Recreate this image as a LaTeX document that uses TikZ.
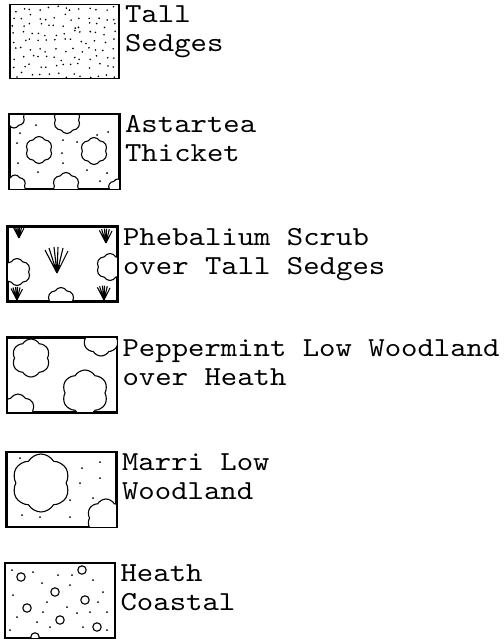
\documentclass[tikz,border=0pt]{standalone}
\usepackage{fontspec}
\newfontfamily\legendfont{lmmono10-regular.otf}[FakeStretch=1.135]
\usetikzlibrary{positioning,shapes.symbols}
\tikzset{
  swatch/.style={draw, line width=1.8pt, minimum width=109pt, minimum height=74pt, inner sep=0pt},
  legendtext/.style={font=\legendfont\fontsize{27.5pt}{29pt}\selectfont, inner sep=0pt, anchor=base west},
  puff/.style={cloud, cloud puffs=6, cloud puff arc=120, aspect=1, draw, fill=white, line width=1.1pt, inner sep=0pt},
  speck/.style={fill=black},
  sedgetuft/.pic={
    \draw[line width=1.1pt] (0,0) -- (-12,-23) (0,0) -- (-8,-25) (0,0) -- (-3,-26)
      (0,0) -- (1,-26) (0,0) -- (6,-25) (0,0) -- (11,-22);
    \fill (0,0) -- (-3,-8) -- (3,-8) -- cycle;
  }
}
\newcommand{\specks}[1]{\foreach \p in {#1} \fill[speck] (\p) circle[radius=1pt];}
\begin{document}
\begin{tikzpicture}[x=1pt, y=-1pt]
\useasboundingbox (0,0) rectangle (503,642);

% swatches
\node[swatch] (sedges) at (64.5,41.5) {};
\node[swatch] (astartea) at (64.5,151.5) {};
\node[swatch] (phebalium) at (62.5,264) {};
\node[swatch] (peppermint) at (62,375) {};
\node[swatch] (marri) at (61.5,489.5) {};
\node[swatch] (heath) at (60,600.5) {};

% Tall Sedges: stipple
\begin{scope}
  \clip (sedges.south west) rectangle (sedges.north east);
  \pgfmathsetseed{11}
  \foreach \gx in {0,...,12} {
    \foreach \gy in {0,...,8} {
      \pgfmathsetmacro\px{15+\gx*8.2+rnd*6-3}
      \pgfmathsetmacro\py{9+\gy*8.2+rnd*6-3}
      \fill[speck] (\px,\py) circle[radius=0.9pt];
    }
  }
\end{scope}

% Astartea Thicket
\begin{scope}
  \clip (astartea.south west) rectangle (astartea.north east);
  \specks{{36,125},{20,133},{97,135},{108,132},{17,143},{63,140},{77,142},
    {62,153},{18,163},{38,172},{63,163},{87,170},{107,173},{100,181}}
  \node[puff, minimum size=22pt] (a1) at (14,117) {};
  \node[puff, minimum size=27pt] (a2) at (67,120) {};
  \node[puff, minimum size=27pt] (a3) at (39,150) {};
  \node[puff, minimum size=27pt] (a4) at (94,151) {};
  \node[puff, minimum size=22pt] (a5) at (15,186) {};
  \node[puff, minimum size=27pt] (a6) at (66,186) {};
  \node[puff, minimum size=20pt] (a7) at (118,189) {};
\end{scope}
\draw[line width=1.8pt] (astartea.south west) rectangle (astartea.north east);

% Phebalium Scrub over Tall Sedges
\begin{scope}
  \clip (phebalium.south west) rectangle (phebalium.north east);
  \node[puff, minimum size=27pt] (p1) at (17,272) {};
  \node[puff, minimum size=27pt] (p2) at (110,267) {};
  \node[puff, minimum size=27pt] (p3) at (61,301) {};
  \pic at (57,273) {sedgetuft};
  \pic[scale=0.45] at (19,238) {sedgetuft};
  \pic[scale=0.55] at (106,243) {sedgetuft};
  \pic[scale=0.5] at (17,300) {sedgetuft};
  \pic[scale=0.55] at (104,300) {sedgetuft};
\end{scope}
\draw[line width=1.8pt] (phebalium.south west) rectangle (phebalium.north east);

% Peppermint Low Woodland over Heath
\begin{scope}
  \clip (peppermint.south west) rectangle (peppermint.north east);
  \node[puff, minimum size=38pt] (m1) at (31,358) {};
  \node[puff, minimum size=36pt] (m2) at (101,338) {};
  \node[puff, minimum size=46pt] (m3) at (85,393) {};
  \node[puff, minimum size=34pt] (m4) at (18,411) {};
\end{scope}
\draw[line width=1.8pt] (peppermint.south west) rectangle (peppermint.north east);

% Marri Low Woodland
\begin{scope}
  \clip (marri.south west) rectangle (marri.north east);
  \specks{{82,468},{100,462},{100,478},{80,483},{70,500},{93,498},
    {22,515},{40,517},{70,517},{20,458}}
  \node[puff, minimum size=58pt] (r1) at (41,483) {};
  \node[puff, minimum size=38pt] (r2) at (106,518) {};
\end{scope}
\draw[line width=1.8pt] (marri.south west) rectangle (marri.north east);

% Heath Coastal
\begin{scope}
  \clip (heath.south west) rectangle (heath.north east);
  \specks{{33,572},{58,575},{42,583},{70,585},{93,580},{103,592},{13,595},
    {47,602},{67,607},{98,602},{77,613},{43,612},{90,612},{17,617},{37,622},
    {50,627},{83,627},{107,630},{10,630},{107,612},{12,570},{72,575}}
  \foreach \p in {{21,577},{82,570},{55,592},{85,600},{27,608},{60,620},{97,627},{35,637}}
    \draw[line width=1.1pt, fill=white] (\p) circle[radius=4.2pt];
\end{scope}
\draw[line width=1.8pt] (heath.south west) rectangle (heath.north east);

% labels
\node[legendtext] (l1a) at ([xshift=5pt, yshift=-19pt]sedges.north east) {Tall};
\node[legendtext] (l1b) at ([yshift=-29pt]l1a.base west) {Sedges};
\node[legendtext] (l2a) at ([xshift=5pt, yshift=-19pt]astartea.north east) {Astartea};
\node[legendtext] (l2b) at ([yshift=-29pt]l2a.base west) {Thicket};
\node[legendtext] (l3a) at ([xshift=5pt, yshift=-19pt]phebalium.north east) {Phebalium Scrub};
\node[legendtext] (l3b) at ([yshift=-29pt]l3a.base west) {over Tall Sedges};
\node[legendtext] (l4a) at ([xshift=5pt, yshift=-19pt]peppermint.north east) {Peppermint Low Woodland};
\node[legendtext] (l4b) at ([yshift=-29pt]l4a.base west) {over Heath};
\node[legendtext] (l5a) at ([xshift=5pt, yshift=-19pt]marri.north east) {Marri Low};
\node[legendtext] (l5b) at ([yshift=-29pt]l5a.base west) {Woodland};
\node[legendtext] (l6a) at ([xshift=5pt, yshift=-19pt]heath.north east) {Heath};
\node[legendtext] (l6b) at ([yshift=-29pt]l6a.base west) {Coastal};
\end{tikzpicture}
\end{document}
